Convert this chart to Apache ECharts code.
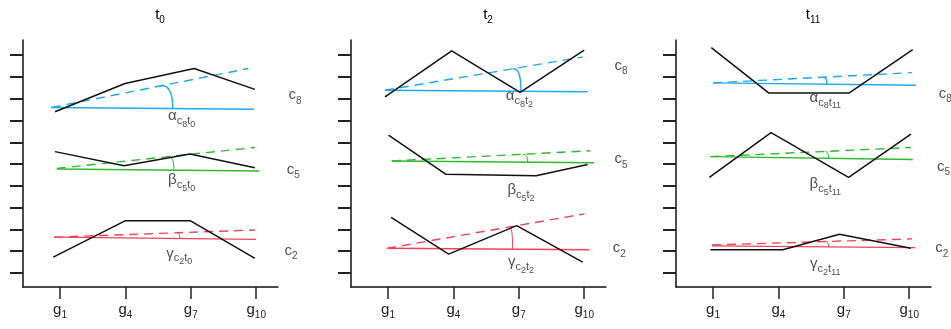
<!DOCTYPE html>
<html>
<head>
<meta charset="utf-8">
<script src="https://cdn.jsdelivr.net/npm/echarts@6/dist/echarts.min.js"></script>
<style>
  html, body { margin: 0; padding: 0; background: #fff; }
  #chart { width: 951px; height: 329px; }
</style>
</head>
<body>
<div id="chart"></div>
<script>
// paneles por tiempo
const timeSubs = ['0', '2', '11'];
const geneTicks = [1, 4, 7, 10];
const yTicks = [0, 1, 2, 3, 4, 5, 6, 7, 8, 9, 10];
const clusters = ['8', '5', '2'];
const angleNames = ['α', 'β', 'γ'];
const lineColors = ['#1BA9F0', '#2DBA2D', '#EE4455'];

// perfiles (negro) por cluster: c8, c5, c2
const profileT0 = [
    [[0.77, 7.40], [3.98, 8.70], [7.15, 9.39], [9.94, 8.43]],
    [[0.77, 5.57], [3.94, 4.92], [6.96, 5.46], [9.94, 4.83]],
    [[0.69, 0.72], [3.98, 2.39], [6.99, 2.39], [9.94, 0.67]]
];
const profileT2 = [
    [[0.86, 8.09], [3.92, 10.2], [7.06, 8.29], [10.0, 10.23]],
    [[1.02, 6.33], [3.66, 4.53], [7.79, 4.46], [10.16, 4.98]],
    [[1.14, 2.55], [3.78, 0.86], [6.90, 2.17], [9.93, 0.49]]
];
const profileT11 = [
    [[0.92, 10.35], [3.55, 8.27], [7.25, 8.27], [10.16, 10.26]],
    [[0.83, 4.39], [3.66, 6.44], [7.22, 4.39], [10.08, 6.38]],
    [[0.88, 1.06], [4.20, 1.06], [6.80, 1.77], [10.08, 1.13]]
];

// linea base (solida): [x0, y0, x1, y1]
const baseT0 = [[0.57, 7.60, 9.90, 7.52], [0.85, 4.77, 10.14, 4.68], [0.73, 1.64, 9.99, 1.54]];
const baseT2 = [[0.86, 8.39, 10.16, 8.32], [1.17, 5.14, 10.46, 5.06], [0.96, 1.13, 10.23, 1.06]];
const baseT11 = [[1.00, 8.73, 10.31, 8.62], [0.88, 5.34, 10.16, 5.21], [0.95, 1.24, 10.28, 1.16]];

// tendencia (discontinua): [x0, y0, x1, y1]
const trendT0 = [[0.62, 7.60, 9.64, 9.39], [0.85, 4.80, 9.94, 5.76], [0.73, 1.64, 9.94, 1.97]];
const trendT2 = [[0.86, 8.39, 9.93, 9.92], [1.17, 5.14, 10.28, 5.61], [0.96, 1.13, 10.01, 2.71]];
const trendT11 = [[1.00, 8.73, 10.13, 9.20], [0.88, 5.34, 10.08, 5.76], [0.95, 1.28, 10.13, 1.56]];

// arcos del angulo: [x en base, x en tendencia]
const arcT0 = [[6.17, 5.59], [6.23, 5.97], [6.50, 6.35]];
const arcT2 = [[7.10, 6.72], [7.41, 7.18], [6.72, 6.57]];
const arcT11 = [[6.23, 6.05], [6.30, 6.15], [6.30, 6.15]];

// etiquetas de angulo y de cluster
const angleLblT0 = [[6.58, 7.09], [6.58, 4.14], [6.47, 0.78]];
const angleLblT2 = [[7.03, 8.01], [7.10, 3.69], [7.10, 0.37]];
const angleLblT11 = [[6.15, 7.94], [6.15, 3.96], [6.15, 0.29]];
const clusterLblT0 = [[11.78, 8.09], [11.70, 4.68], [11.60, 0.95]];
const clusterLblT2 = [[11.69, 9.46], [11.69, 5.15], [11.61, 1.06]];
const clusterLblT11 = [[11.66, 8.17], [11.58, 4.80], [11.50, 1.06]];

const panels = [
    { profile: profileT0, base: baseT0, trend: trendT0, arc: arcT0, angleLbl: angleLblT0, clusterLbl: clusterLblT0 },
    { profile: profileT2, base: baseT2, trend: trendT2, arc: arcT2, angleLbl: angleLblT2, clusterLbl: clusterLblT2 },
    { profile: profileT11, base: baseT11, trend: trendT11, arc: arcT11, angleLbl: angleLblT11, clusterLbl: clusterLblT11 }
];

const gridLefts = [23, 351, 676];
const gridWidth = 255;
const FONT = 'Liberation Sans, Arial, sans-serif';
const TXT = '#222';

const rich = {
    g: { fontSize: 15, fontFamily: FONT, color: TXT, verticalAlign: 'bottom', padding: [0, 0, 5, 0] },
    s: { fontSize: 11, fontFamily: FONT, color: TXT, verticalAlign: 'bottom', padding: [0, 0, 2, 0] },
    ss: { fontSize: 9, fontFamily: FONT, color: TXT, verticalAlign: 'bottom', padding: [0, 0, 0, 0] }
};
const richSimple = {
    g: { fontSize: 15, fontFamily: FONT, color: TXT, verticalAlign: 'bottom', padding: [0, 0, 3, 0] },
    s: { fontSize: 10, fontFamily: FONT, color: TXT, verticalAlign: 'bottom', padding: [0, 0, 0, 0] }
};

function lerp(seg, x) {
    return seg[1] + (seg[3] - seg[1]) * (x - seg[0]) / (seg[2] - seg[0]);
}

const chart = echarts.init(document.getElementById('chart'));

const grids = [], xAxes = [], yAxes = [], series = [], graphics = [];

panels.forEach((p, pi) => {
    grids.push({ left: gridLefts[pi], width: gridWidth, top: 40, bottom: 42, containLabel: false });
    xAxes.push({
        type: 'value', gridIndex: pi, min: -0.7, max: 11,
        axisLine: { show: true, onZero: false, lineStyle: { color: '#111', width: 1.5 } },
        axisTick: { show: true, customValues: geneTicks, length: 12, lineStyle: { color: '#222', width: 1.5 } },
        axisLabel: {
            show: true, customValues: geneTicks, margin: 15, color: TXT,
            formatter: v => '{g|g}{s|' + v + '}', rich: richSimple
        },
        splitLine: { show: false }
    });
    yAxes.push({
        type: 'value', gridIndex: pi, min: -0.65, max: 10.7,
        axisLine: { show: true, onZero: false, lineStyle: { color: '#111', width: 1.5 } },
        axisTick: { show: true, customValues: yTicks, length: 13, lineStyle: { color: '#222', width: 2 } },
        axisLabel: { show: false },
        splitLine: { show: false }
    });

    const tSub = timeSubs[pi];

    clusters.forEach((c, ci) => {
        const col = lineColors[ci];
        const b = p.base[ci], t = p.trend[ci];
        // solida
        series.push({
            type: 'line', xAxisIndex: pi, yAxisIndex: pi, symbol: 'none', silent: true,
            data: [[b[0], b[1]], [b[2], b[3]]],
            lineStyle: { color: col, width: 1.4 }, z: 2
        });
        // discontinua
        series.push({
            type: 'line', xAxisIndex: pi, yAxisIndex: pi, symbol: 'none', silent: true,
            data: [[t[0], t[1]], [t[2], t[3]]],
            lineStyle: { color: col, width: 1.4, type: [9, 6] }, z: 2
        });
        // perfil
        series.push({
            type: 'line', xAxisIndex: pi, yAxisIndex: pi, symbol: 'none', silent: true,
            data: p.profile[ci],
            lineStyle: { color: '#111', width: 1.5 }, z: 3
        });
        // arco del angulo
        series.push({
            type: 'custom', xAxisIndex: pi, yAxisIndex: pi, silent: true, clip: false,
            data: [p.arc[ci]],
            renderItem: function (params, api) {
                const xa = api.value(0), xe = api.value(1);
                const p0 = api.coord([xa, lerp(b, xa)]);
                const p1 = api.coord([xa, lerp(t, xa)]);
                const p2 = api.coord([xe, lerp(t, xe)]);
                return {
                    type: 'bezierCurve',
                    shape: { x1: p0[0], y1: p0[1], x2: p2[0], y2: p2[1], cpx1: p1[0], cpy1: p1[1] },
                    style: { stroke: col, fill: null, lineWidth: ci === 0 ? 1.4 : 1 }
                };
            },
            z: 2
        });
        // etiquetas
        series.push({
            type: 'scatter', xAxisIndex: pi, yAxisIndex: pi, symbolSize: 0, silent: true, clip: false,
            data: [p.angleLbl[ci]],
            label: {
                show: true, position: 'inside', color: TXT,
                formatter: '{g|' + angleNames[ci] + '}{s|c}{ss|' + c + '}{s|t}{ss|' + tSub + '}',
                rich: rich
            }
        });
        series.push({
            type: 'scatter', xAxisIndex: pi, yAxisIndex: pi, symbolSize: 0, silent: true, clip: false,
            data: [p.clusterLbl[ci]],
            label: {
                show: true, position: 'inside', color: TXT,
                formatter: '{g|c}{s|' + c + '}',
                rich: richSimple
            }
        });
    });

    // titulo del panel
    graphics.push({
        type: 'text', x: gridLefts[pi] + 137, y: 16,
        style: {
            text: '{g|t}{s|' + tSub + '}', align: 'center', verticalAlign: 'middle',
            rich: {
                g: { fontSize: 15, fontFamily: FONT, color: '#333', verticalAlign: 'bottom', padding: [0, 0, 3, 0] },
                s: { fontSize: 10, fontFamily: FONT, color: '#333', verticalAlign: 'bottom' }
            }
        }
    });
});

chart.setOption({
    animation: false,
    backgroundColor: '#fff',
    grid: grids,
    xAxis: xAxes,
    yAxis: yAxes,
    series: series,
    graphic: graphics
});

window.addEventListener('resize', function () {
    chart.resize();
});
</script>
</body>
</html>
